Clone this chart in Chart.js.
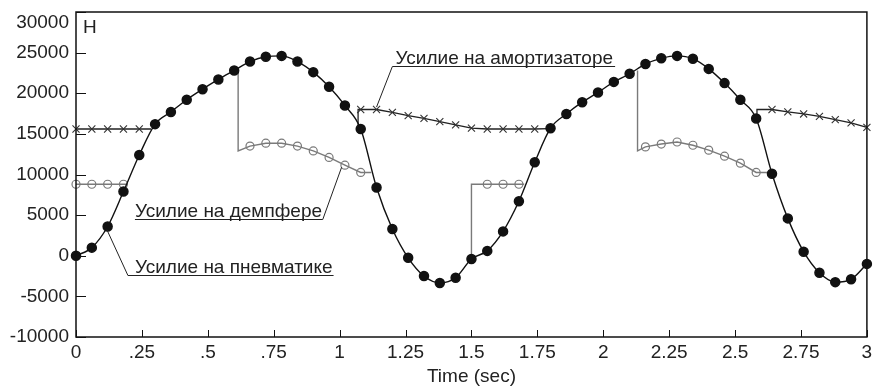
<!DOCTYPE html>
<html>
<head>
<meta charset="utf-8">
<script src="https://cdn.jsdelivr.net/npm/chart.js@4.4.1/dist/chart.umd.min.js"></script>
<style>
  body { margin: 0; background: #fff; }
  canvas { display: block; }
</style>
</head>
<body>
<canvas id="chart" width="873" height="387"></canvas>
<script>
// values (time in sec, force in H)
const pneumaticT = [0, 0.06, 0.12, 0.18, 0.24, 0.30, 0.36, 0.42, 0.48, 0.54, 0.60, 0.66, 0.72, 0.78, 0.84, 0.90, 0.96,
  1.02, 1.08, 1.14, 1.20, 1.26, 1.32, 1.38, 1.44, 1.50, 1.56, 1.62, 1.68, 1.74, 1.80, 1.86, 1.92, 1.98,
  2.04, 2.10, 2.16, 2.22, 2.28, 2.34, 2.40, 2.46, 2.52, 2.58, 2.64, 2.70, 2.76, 2.82, 2.88, 2.94, 3.00];
const pneumaticF = [0, 1000, 3600, 7900, 12400, 16200, 17700, 19200, 20500, 21700, 22800, 23900, 24500, 24600, 23900, 22600, 20800,
  18500, 15600, 8400, 3300, -250, -2500, -3350, -2700, -400, 600, 3000, 6700, 11500, 15700, 17450, 18900, 20100,
  21400, 22400, 23600, 24300, 24600, 24250, 23000, 21250, 19200, 16900, 10100, 4600, 500, -2100, -3250, -2900, -1000];

// null splits the pieces where this force is the one shown
const damperT = [0, 0.06, 0.12, 0.18, 0.19, null,
  0.615, 0.615, 0.66, 0.72, 0.78, 0.84, 0.90, 0.96, 1.02, 1.08, 1.12, null,
  1.50, 1.50, 1.56, 1.62, 1.68, 1.70, null,
  2.13, 2.13, 2.16, 2.22, 2.28, 2.34, 2.40, 2.46, 2.52, 2.58, 2.635];
const damperF = [8800, 8800, 8800, 8800, 8800, null,
  22900, 12900, 13500, 13850, 13850, 13500, 12900, 12100, 11150, 10250, 10250, null,
  -400, 8800, 8800, 8800, 8800, 8800, null,
  22800, 12900, 13400, 13750, 14000, 13600, 13000, 12250, 11400, 10250, 10250];

const shockT = [0, 0.06, 0.12, 0.18, 0.24, 0.285, null,
  1.07, 1.07, 1.08, 1.14, 1.20, 1.26, 1.32, 1.38, 1.44, 1.50, 1.56, 1.62, 1.68, 1.74, 1.795, null,
  2.583, 2.583, 2.64, 2.70, 2.76, 2.82, 2.88, 2.94, 3.00];
const shockF = [15600, 15600, 15600, 15600, 15600, 15600, null,
  16000, 18000, 18000, 18000, 17650, 17250, 16900, 16500, 16100, 15700, 15600, 15600, 15600, 15600, 15650, null,
  16900, 18000, 18000, 17700, 17450, 17150, 16750, 16350, 15800];

const xTicks = [0, 0.25, 0.5, 0.75, 1, 1.25, 1.5, 1.75, 2, 2.25, 2.5, 2.75, 3];
const xTickLabels = ['0', '.25', '.5', '.75', '1', '1.25', '1.5', '1.75', '2', '2.25', '2.5', '2.75', '3'];
const yTicks = [30000, 25000, 20000, 15000, 10000, 5000, 0, -5000, -10000];

const noteTexts = ['Усилие на амортизаторе', 'Усилие на демпфере', 'Усилие на пневматике'];

const FONT = '19px "Liberation Sans", Arial, sans-serif';
const SAMPLE_STEP = 0.06;

function toPoints(ts, fs) {
  return ts.map((t, i) => ({ x: t, y: fs[i] }));
}

// marker only on the sampled times, not on the switch corners
function markerRadius(size) {
  return function (ctx) {
    const pts = ctx.dataset.data;
    const i = ctx.dataIndex;
    const p = pts[i];
    if (!p || p.x === null) return 0;
    const k = p.x / SAMPLE_STEP;
    if (Math.abs(k - Math.round(k)) > 1e-6) return 0;
    const prev = pts[i - 1], next = pts[i + 1];
    if ((prev && prev.x === p.x) || (next && next.x === p.x)) return 0;
    return size;
  };
}

const framePlugin = {
  id: 'frame',
  afterDraw(chart) {
    const ctx = chart.ctx;
    const a = chart.chartArea;
    const x = chart.scales.x, y = chart.scales.y;
    ctx.save();

    ctx.strokeStyle = '#111';
    ctx.lineWidth = 1.5;
    ctx.strokeRect(a.left, a.top, a.right - a.left, a.bottom - a.top);

    // inward ticks
    ctx.lineWidth = 1;
    ctx.beginPath();
    yTicks.forEach(v => {
      const py = Math.round(y.getPixelForValue(v)) + 0.5;
      ctx.moveTo(a.left, py);
      ctx.lineTo(a.left + 10, py);
    });
    xTicks.forEach(t => {
      const px = Math.round(x.getPixelForValue(t)) + 0.5;
      ctx.moveTo(px, a.bottom);
      ctx.lineTo(px, a.bottom - 7);
    });
    ctx.stroke();

    ctx.fillStyle = '#222';
    ctx.font = FONT;
    ctx.textAlign = 'right';
    ctx.textBaseline = 'middle';
    yTicks.forEach(v => {
      const py = Math.max(y.getPixelForValue(v), a.top + 11);
      ctx.fillText(String(v), a.left - 7, py);
    });
    ctx.textAlign = 'center';
    xTicks.forEach((t, i) => {
      ctx.fillText(xTickLabels[i], x.getPixelForValue(t), a.bottom + 16);
    });
    ctx.fillText('Time (sec)', (a.left + a.right) / 2, a.bottom + 40);

    ctx.textAlign = 'left';
    ctx.textBaseline = 'alphabetic';
    ctx.fillText('H', a.left + 7, a.top + 21);

    // callouts: underline + leader to the curve
    const notes = [
      { from: [1.20, 2.045], lineF: 23300, textT: 1.212, end: 'left', toT: 1.14, toF: 18300 },
      { from: [0.2235, 0.936], lineF: 4580, textT: 0.2235, end: 'right', toT: 1.0076, toF: 10900 },
      { from: [0.197, 0.977], lineF: -2350, textT: 0.2235, end: 'left', toT: 0.117, toF: 3220 }
    ];
    ctx.strokeStyle = '#222';
    ctx.lineWidth = 1;
    notes.forEach((n, i) => {
      const py = Math.round(y.getPixelForValue(n.lineF)) + 0.5;
      const x1 = x.getPixelForValue(n.from[0]);
      const x2 = x.getPixelForValue(n.from[1]);
      const ex = n.end === 'left' ? x1 : x2;
      ctx.beginPath();
      ctx.moveTo(x1, py);
      ctx.lineTo(x2, py);
      ctx.moveTo(ex, py);
      ctx.lineTo(x.getPixelForValue(n.toT), y.getPixelForValue(n.toF));
      ctx.stroke();
      ctx.fillText(noteTexts[i], x.getPixelForValue(n.textT), py - 3);
    });

    ctx.restore();
  }
};

new Chart(document.getElementById('chart'), {
  type: 'scatter',
  data: {
    datasets: [
      {
        label: 'Усилие на пневматике',
        data: toPoints(pneumaticT, pneumaticF),
        showLine: true,
        borderColor: '#111',
        borderWidth: 1.4,
        cubicInterpolationMode: 'monotone',
        pointStyle: 'circle',
        pointRadius: 4.5,
        pointBorderWidth: 1.5,
        pointBackgroundColor: '#111',
        pointBorderColor: '#111',
        clip: false
      },
      {
        label: 'Усилие на демпфере',
        data: toPoints(damperT, damperF),
        showLine: true,
        spanGaps: false,
        borderColor: '#7a7a7a',
        borderWidth: 1.4,
        pointStyle: 'circle',
        pointRadius: markerRadius(4),
        pointBorderWidth: 1.2,
        pointBackgroundColor: 'rgba(0,0,0,0)',
        pointBorderColor: '#7a7a7a',
        clip: false
      },
      {
        label: 'Усилие на амортизаторе',
        data: toPoints(shockT, shockF),
        showLine: true,
        spanGaps: false,
        borderColor: '#222',
        borderWidth: 1.3,
        pointStyle: 'crossRot',
        pointRadius: markerRadius(5),
        pointBorderWidth: 1.1,
        pointBorderColor: '#333',
        clip: false
      }
    ]
  },
  options: {
    responsive: false,
    animation: false,
    devicePixelRatio: 1,
    layout: { padding: { left: 76, right: 5, top: 12, bottom: 50 } },
    plugins: { legend: { display: false }, tooltip: { enabled: false } },
    scales: {
      x: { type: 'linear', min: 0, max: 3, display: false },
      y: { type: 'linear', min: -10000, max: 30000, display: false }
    }
  },
  plugins: [framePlugin]
});
</script>
</body>
</html>
